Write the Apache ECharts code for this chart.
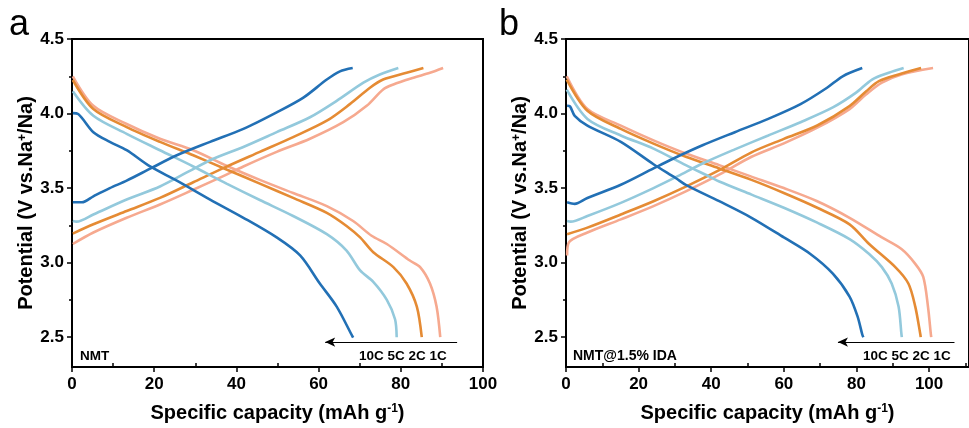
<!DOCTYPE html>
<html><head><meta charset="utf-8">
<script src="https://cdn.jsdelivr.net/npm/echarts@6/dist/echarts.min.js"></script>
<style>html,body{margin:0;padding:0;background:#fff}#c{width:969px;height:428px}</style>
</head><body><div id="c"></div>
<script>
// ---------- data ----------
const rates = ['10C', '5C', '2C', '1C'];
const yLabelValues = [2.5, 3.0, 3.5, 4.0, 4.5];
const yMinorValues = [2.75, 3.25, 3.75, 4.25];
const xLabelValues = [0, 20, 40, 60, 80, 100];
const xMinorValues = [10, 30, 50, 70, 90, 110];

// panel a (NMT) : [capacity, potential]
const chargeA10 = [[0.2,3.405],[2.4,3.405],[5.2,3.445],[9.2,3.5],[13.3,3.55],[19.0,3.63],[25.5,3.72],[33.6,3.81],[41.7,3.897],[49.8,4.008],[56.3,4.107],[62.0,4.228],[65.2,4.283],[68.3,4.305]];
const chargeA5  = [[0.2,3.28],[1.1,3.275],[5.2,3.323],[13.3,3.423],[21.4,3.511],[28.3,3.61],[33.6,3.687],[41.7,3.776],[49.8,3.875],[57.9,3.975],[64.4,4.085],[70.9,4.207],[74.9,4.262],[79.4,4.305]];
const chargeA2  = [[0.2,3.195],[5.2,3.257],[13.3,3.346],[21.4,3.434],[29.5,3.539],[37.6,3.644],[45.7,3.743],[53.8,3.842],[62.0,3.952],[67.6,4.063],[72.5,4.173],[75.7,4.228],[81.4,4.273],[85.5,4.305]];
const chargeA1  = [[0.2,3.125],[5.2,3.202],[13.3,3.301],[21.4,3.39],[29.5,3.489],[36.8,3.58],[41.7,3.645],[49.8,3.743],[57.9,3.831],[66.0,3.942],[71.7,4.052],[75.7,4.162],[78.2,4.195],[83.1,4.24],[87.1,4.273],[90.3,4.305]];
const dischA10 = [[0.2,4.003],[1.5,3.997],[5.2,3.875],[9.2,3.81],[13.3,3.754],[19.0,3.645],[25.5,3.55],[33.6,3.423],[41.7,3.301],[49.8,3.169],[55.5,3.048],[60.3,2.86],[64.4,2.705],[68.0,2.518],[68.4,2.497]];
const dischA5  = [[0.2,4.15],[5.2,3.985],[13.3,3.864],[21.4,3.754],[29.5,3.645],[37.6,3.53],[45.7,3.42],[53.8,3.313],[62.0,3.191],[66.8,3.081],[70.1,2.948],[73.3,2.871],[76.6,2.75],[78.6,2.62],[79.0,2.5]];
const dischA2  = [[0.2,4.225],[5.2,4.03],[13.3,3.909],[21.4,3.81],[29.5,3.72],[37.6,3.625],[45.7,3.53],[53.8,3.434],[62.0,3.334],[66.8,3.246],[70.1,3.169],[73.3,3.07],[78.2,2.97],[81.4,2.86],[83.9,2.705],[85.1,2.5]];
const dischA1  = [[0.2,4.25],[5.2,4.052],[13.3,3.93],[21.4,3.831],[29.5,3.754],[37.6,3.65],[45.7,3.555],[53.8,3.467],[62.0,3.379],[68.4,3.279],[72.9,3.18],[76.6,3.125],[82.2,3.014],[84.7,2.97],[87.1,2.86],[88.7,2.705],[89.6,2.5]];

// panel b (NMT@1.5% IDA)
const chargeB10 = [[0.3,3.405],[2.4,3.394],[5.9,3.434],[15.1,3.522],[24.1,3.632],[28.6,3.687],[37.6,3.787],[46.5,3.875],[55.7,3.964],[64.6,4.063],[71.9,4.173],[76.2,4.25],[81.6,4.305]];
const chargeB5  = [[0.3,3.28],[1.3,3.275],[5.9,3.313],[15.1,3.401],[24.1,3.5],[30.8,3.58],[37.6,3.665],[46.5,3.76],[55.7,3.853],[64.6,3.942],[73.5,4.041],[79.9,4.14],[84.3,4.228],[88.9,4.273],[93.0,4.305]];
const chargeB2  = [[0.3,3.19],[5.9,3.235],[15.1,3.323],[24.1,3.412],[33.0,3.51],[42.2,3.62],[51.1,3.74],[60.0,3.83],[69.2,3.92],[78.1,4.05],[82.7,4.15],[86.2,4.217],[91.6,4.262],[97.8,4.305]];
const chargeB1  = [[0.3,3.048],[0.8,3.136],[5.9,3.202],[15.1,3.29],[24.1,3.379],[33.0,3.478],[42.2,3.59],[51.1,3.71],[60.0,3.8],[69.2,3.905],[78.1,4.03],[82.7,4.129],[87.0,4.207],[92.4,4.262],[101.1,4.305]];
const dischB10 = [[0.3,4.052],[1.1,4.048],[2.4,3.985],[5.9,3.919],[15.1,3.81],[24.1,3.66],[30.3,3.566],[33.0,3.522],[42.2,3.412],[51.1,3.301],[60.0,3.169],[67.3,3.058],[73.5,2.926],[78.1,2.772],[80.3,2.639],[81.6,2.518],[81.9,2.5]];
const dischB5  = [[0.2,4.16],[5.9,3.964],[15.1,3.853],[24.1,3.765],[33.0,3.654],[39.5,3.577],[42.2,3.544],[51.1,3.456],[60.0,3.368],[69.2,3.268],[78.1,3.158],[83.5,3.058],[87.0,2.97],[89.7,2.86],[91.6,2.705],[92.4,2.518],[92.5,2.5]];
const dischB2  = [[0.2,4.228],[5.9,4.019],[15.1,3.897],[24.1,3.798],[33.0,3.71],[42.2,3.632],[51.1,3.555],[60.0,3.467],[69.2,3.368],[78.1,3.257],[83.5,3.125],[90.7,2.97],[94.3,2.86],[96.2,2.705],[97.6,2.518],[97.7,2.5]];
const dischB1  = [[0.2,4.25],[5.9,4.03],[15.1,3.919],[24.1,3.82],[33.0,3.732],[42.2,3.654],[51.1,3.577],[60.0,3.5],[69.2,3.412],[78.1,3.301],[87.0,3.169],[92.4,3.091],[96.2,2.992],[98.4,2.904],[99.7,2.705],[100.5,2.518],[100.6,2.5]];

// arrows: [from x, to x, at potential]
const arrowA = [93.7, 61.6, 2.467];
const arrowB = [107.0, 74.9, 2.467];

// ---------- styles ----------
const colors = ['#2270b5', '#93c9dc', '#e58b34', '#f6a98f'];
const FONT = 'Arial, "Liberation Sans", sans-serif';

function axesFor(gi, xmax) {
  const xs = [
    { gridIndex: gi, type: 'value', min: 0, max: xmax, position: 'bottom',
      axisLine: { show: true, onZero: false, lineStyle: { color: '#000', width: 2 } },
      axisTick: { show: true, customValues: xLabelValues, length: 5, inside: false, lineStyle: { color: '#000', width: 1.5 } },
      axisLabel: { customValues: xLabelValues, fontSize: 17, fontWeight: 'bold', color: '#000', fontFamily: FONT, margin: 9 },
      splitLine: { show: false },
      name: 'Specific capacity (mAh g{sup|-1})', nameLocation: 'middle', nameGap: 36,
      nameTextStyle: { fontSize: 20, fontWeight: 'bold', color: '#000', fontFamily: FONT,
        rich: { sup: { fontSize: 12, fontWeight: 'bold', color: '#000', fontFamily: FONT, verticalAlign: 'top' } } } },
    { gridIndex: gi, type: 'value', min: 0, max: xmax, position: 'bottom', offset: 0,
      axisLine: { show: false },
      axisTick: { show: true, customValues: xMinorValues.filter(v => v < xmax), length: 4, inside: true, lineStyle: { color: '#000', width: 1.5 } },
      axisLabel: { show: false }, splitLine: { show: false } }
  ];
  const ys = [
    { gridIndex: gi, type: 'value', min: 2.3, max: 4.5, position: 'left',
      axisLine: { show: true, onZero: false, lineStyle: { color: '#000', width: 2 } },
      axisTick: { show: true, customValues: yLabelValues, length: 5, lineStyle: { color: '#000', width: 1.5 } },
      axisLabel: { customValues: yLabelValues, formatter: v => v.toFixed(1), fontSize: 17, fontWeight: 'bold', color: '#000', fontFamily: FONT, margin: 8 },
      splitLine: { show: false },
      name: 'Potential (V vs.Na{sup|+}/Na)', nameLocation: 'middle', nameGap: 34,
      nameTextStyle: { fontSize: 20, fontWeight: 'bold', color: '#000', fontFamily: FONT,
        rich: { sup: { fontSize: 12, fontWeight: 'bold', color: '#000', fontFamily: FONT, verticalAlign: 'top' } } } },
    { gridIndex: gi, type: 'value', min: 2.3, max: 4.5, position: 'left', offset: 0,
      axisLine: { show: false },
      axisTick: { show: true, customValues: yMinorValues, length: 3, lineStyle: { color: '#000', width: 1.5 } },
      axisLabel: { show: false }, splitLine: { show: false } }
  ];
  return { xs, ys };
}

const axA = axesFor(0, 100);
const axB = axesFor(1, 111);

function lineSeries(data, color, xi, yi, extra) {
  return Object.assign({
    type: 'line', data: data, xAxisIndex: xi, yAxisIndex: yi,
    showSymbol: false, smooth: 0.3, silent: true,
    lineStyle: { color: color, width: 2.6 }, itemStyle: { color: color }, z: 3
  }, extra || {});
}

function arrowMark(arr) {
  return { markLine: { silent: true, symbol: ['none', 'arrow'], symbolSize: [7, 10],
    lineStyle: { color: '#000', width: 1.2, type: 'solid' }, label: { show: false },
    data: [[{ coord: [arr[0], arr[2]] }, { coord: [arr[1], arr[2]] }]] } };
}

const panelA = [[chargeA10, dischA10], [chargeA5, dischA5], [chargeA2, dischA2], [chargeA1, dischA1]];
const panelB = [[chargeB10, dischB10], [chargeB5, dischB5], [chargeB2, dischB2], [chargeB1, dischB1]];

const series = [];
[3, 2, 1, 0].forEach(i => {
  series.push(lineSeries(panelA[i][0], colors[i], 0, 0));
  series.push(lineSeries(panelA[i][1], colors[i], 0, 0, i === 3 ? arrowMark(arrowA) : null));
  series.push(lineSeries(panelB[i][0], colors[i], 2, 2));
  series.push(lineSeries(panelB[i][1], colors[i], 2, 2, i === 3 ? arrowMark(arrowB) : null));
});

const txt = (x, y, text, size, weight) => ({
  type: 'text', x: x, y: y, silent: true,
  style: { text: text, fontSize: size, fontWeight: weight, fill: '#000', fontFamily: FONT,
    align: 'left', verticalAlign: 'middle' }
});

const option = {
  animation: false,
  backgroundColor: '#fff',
  grid: [
    { left: 72, top: 39, width: 411, height: 332, show: true, borderColor: '#000', borderWidth: 2 },
    { left: 566, top: 39, width: 411, height: 332, show: true, borderColor: '#000', borderWidth: 2 }
  ],
  xAxis: axA.xs.concat(axB.xs),
  yAxis: axA.ys.concat(axB.ys),
  series: series,
  graphic: [
    txt(9, 25, 'a', 36, 'normal'),
    txt(499, 25, 'b', 36, 'normal'),
    txt(80, 356, 'NMT', 13.5, 'bold'),
    txt(573, 356, 'NMT@1.5% IDA', 14, 'bold'),
    txt(359, 356, rates.join(' '), 13.5, 'bold'),
    txt(863, 356, rates.join(' '), 13.5, 'bold')
  ]
};

const chart = echarts.init(document.getElementById('c'), null, { renderer: 'canvas' });
chart.setOption(option);
</script>
</body></html>
